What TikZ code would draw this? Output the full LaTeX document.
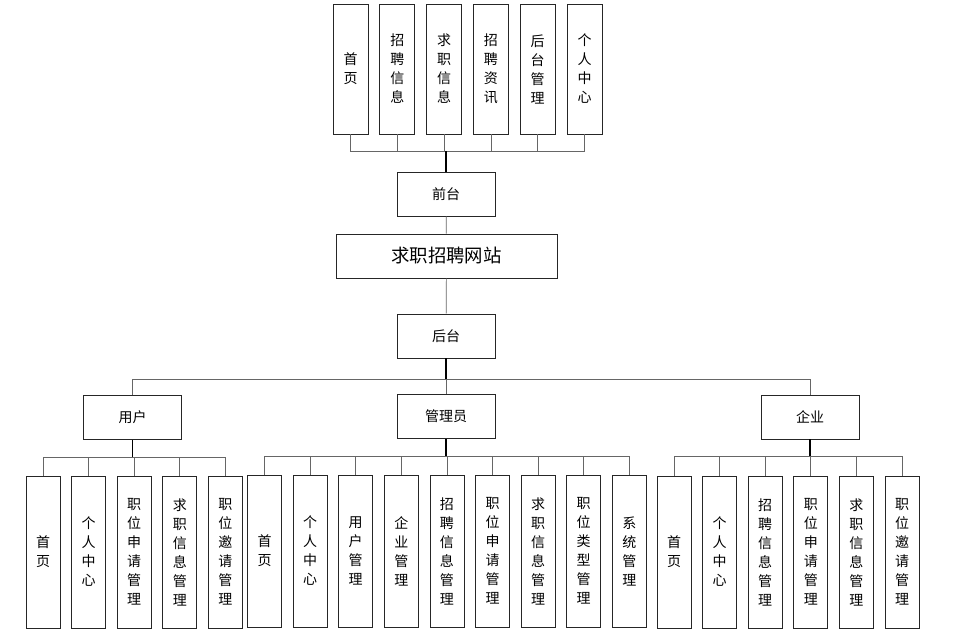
\documentclass[tikz,border=0pt]{standalone}
\usepackage{fontspec}
\setmainfont{Noto Sans CJK SC}
\usetikzlibrary{positioning}

\begin{document}
\begin{tikzpicture}[x = 1pt, y = -1pt, % pixel-like grid, y going down
                node distance = 11.1pt, % gap between boxes
                line width = 0.7pt
            ]

            \tikzstyle{every node}=[draw = black!85, inner sep = 0pt, align = center,
            font = \fontsize{14}{19}\selectfont]
            \tikzstyle{item}=[minimum width = 35pt, minimum height = 130pt]
            \tikzstyle{leaf}=[minimum width = 34pt, minimum height = 152pt]
            \tikzstyle{role}=[minimum width = 98pt, minimum height = 44pt]
            \tikzstyle{link}=[draw = black!60]
            \tikzstyle{trunk}=[draw = black, line width = 1.3pt]

            \useasboundingbox (0,0) rectangle (957,638);

            % front end pages
            \node[item] (t1) at (350.5,69) {首\\页};
            \node[item, right=of t1] (t2) {招\\聘\\信\\息};
            \node[item, right=of t2] (t3) {求\\职\\信\\息};
            \node[item, right=of t3] (t4) {招\\聘\\资\\讯};
            \node[item, right=of t4] (t5) {后\\台\\管\\理};
            \node[item, right=of t5] (t6) {个\\人\\中\\心};

            \node[role] (qt) at (446,194) {前台};
            \node[role, minimum width = 221pt, font = \fontsize{18.4}{20}\selectfont]
                (site) at (446.5,256) {求职招聘网站};
            \node[role] (ht) at (446,336) {后台};

            \node[role] (yh) at (132.5,417.5) {用户};
            \node[role] (gly) at (446,416.5) {管理员};
            \node[role] (qy) at (810,417) {企业};

            % user pages
            \foreach \t [count=\i] in {{首\\页}, {个\\人\\中\\心}, {职\\位\\申\\请\\管\\理},
                {求\\职\\信\\息\\管\\理}, {职\\位\\邀\\请\\管\\理}}
                \node[leaf] (u\i) at ({43+45.6*(\i-1)},552) {\t};

            % admin pages
            \foreach \t [count=\i] in {{首\\页}, {个\\人\\中\\心}, {用\\户\\管\\理},
                {企\\业\\管\\理}, {招\\聘\\信\\息\\管\\理}, {职\\位\\申\\请\\管\\理},
                {求\\职\\信\\息\\管\\理}, {职\\位\\类\\型\\管\\理}, {系\\统\\管\\理}}
                \node[leaf] (a\i) at ({264.5+45.6*(\i-1)},551) {\t};

            % company pages
            \foreach \t [count=\i] in {{首\\页}, {个\\人\\中\\心}, {招\\聘\\信\\息\\管\\理},
                {职\\位\\申\\请\\管\\理}, {求\\职\\信\\息\\管\\理}, {职\\位\\邀\\请\\管\\理}}
                \node[leaf] (c\i) at ({674+45.6*(\i-1)},552) {\t};

            % connectors
            \foreach \i in {1,...,6} \draw[link] (t\i.south) -- ++(0,17) -| (qt.north);
            \draw[trunk] (qt.north) -- ++(0,-21);
            \draw[link] (qt) -- (site);
            \draw[link] (site) -- (ht);

            \draw[link] (ht.south) -- ++(0,21) -| (yh.north);
            \draw[link] (ht.south) -- ++(0,21) -| (qy.north);
            \draw[link] (ht) -- (gly);
            \draw[trunk] (ht.south) -- ++(0,21);

            \foreach \i in {1,...,5} \draw[link] (yh.south) -- ++(0,17) -| (u\i.north);
            \foreach \i in {1,...,9} \draw[link] (gly.south) -- ++(0,17) -| (a\i.north);
            \foreach \i in {1,...,6} \draw[link] (qy.south) -- ++(0,17) -| (c\i.north);
            \draw[trunk] (yh.south) -- ++(0,17);
            \draw[trunk] (gly.south) -- ++(0,17);
            \draw[trunk] (qy.south) -- ++(0,17);
\end{tikzpicture}
\end{document}
